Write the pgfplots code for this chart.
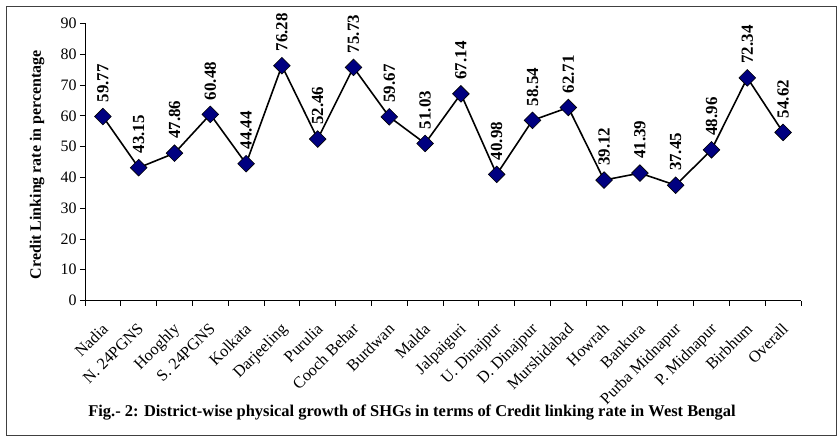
\documentclass[border=0pt]{standalone}
\usepackage{pgfplots}
\pgfplotsset{compat=1.18}
\usepackage{pgfplotstable}
\usepackage{fontspec}
\setmainfont{Liberation Serif}
\definecolor{navy}{RGB}{0,0,128}
\pgfplotstableread{
x y lab
0 59.77 59.77
1 43.15 43.15
2 47.86 47.86
3 60.48 60.48
4 44.44 44.44
5 76.28 76.28
6 52.46 52.46
7 75.73 75.73
8 59.67 59.67
9 51.03 51.03
10 67.14 67.14
11 40.98 40.98
12 58.54 58.54
13 62.71 62.71
14 39.12 39.12
15 41.39 41.39
16 37.45 37.45
17 48.96 48.96
18 72.34 72.34
19 54.62 54.62
}\datatable
\begin{document}
\begin{tikzpicture}
\useasboundingbox (-85bp,-135.5bp) rectangle (753bp,300.5bp);
\draw[line width=1bp, black!75] (-78bp,-134.5bp) rectangle (751bp,293.5bp);
\begin{axis}[
  at={(0,0)}, anchor=south west,
  width=716bp, height=277bp, scale only axis,
  xmin=-0.5, xmax=19.5, ymin=0, ymax=90,
  axis lines*=left,
  axis line style={black, line width=0.8bp},
  tick style={black, line width=0.8bp},
  tick align=outside,
  major tick length=5bp,
  ytick={0,10,...,90},
  xtick={-0.5,0.5,...,19.5},
  x tick label as interval=true,
  xticklabels={Nadia,N. 24PGNS,Hooghly,S. 24PGNS,Kolkata,Darjeeling,Purulia,Cooch Behar,Burdwan,Malda,Jalpaiguri,U. Dinajpur,D. Dinajpur,Murshidabad,Howrah,Bankura,Purba Midnapur,P. Midnapur,Birbhum,Overall},
  xticklabel style={yshift=-15bp, xshift=-2bp, rotate=45, anchor=north east, inner sep=1bp, font=\fontsize{16.3}{16.3}\selectfont},
  yticklabel style={font=\fontsize{16}{16}\selectfont},
  /pgf/number format/assume math mode=true,
  ylabel={Credit Linking rate in percentage},
  ylabel style={at={(axis description cs:-0.067,0.49)}, anchor=center, font=\bfseries\fontsize{16}{16}\selectfont},
  clip=false,
  nodes near coords,
  point meta=explicit symbolic,
  every node near coord/.append style={rotate=90, anchor=west, inner xsep=14bp, text=black, font=\bfseries\fontsize{17}{17}\selectfont},
]
\addplot[black, line width=1.6bp, mark=square*, mark size=5.9bp,
  mark options={rotate=45, fill=navy, draw=black, line width=0.6bp}]
  table[x=x, y=y, meta=lab] {\datatable};
\end{axis}
\node[font=\bfseries\fontsize{16.5}{16.5}\selectfont] at (327bp,-112.5bp) {Fig.- 2: District-wise physical growth of SHGs in terms of Credit linking rate in West Bengal};
\end{tikzpicture}
\end{document}
